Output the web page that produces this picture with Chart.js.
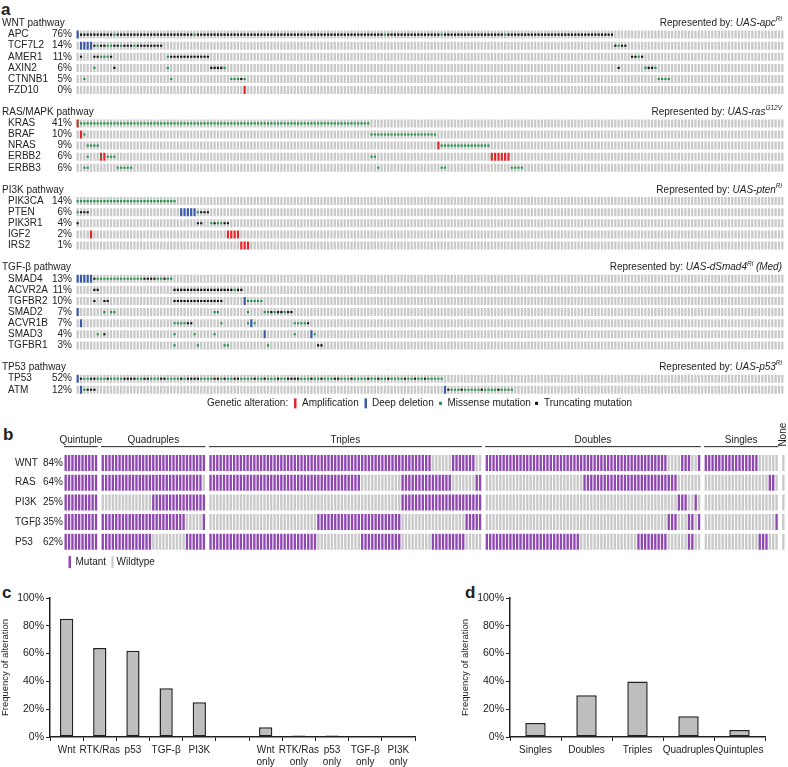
<!DOCTYPE html>
<html>
<head>
<meta charset="utf-8">
<title>Pathway alterations in colorectal cancer</title>
<script src="https://cdn.jsdelivr.net/npm/chart.js@4.4.1/dist/chart.umd.min.js"></script>
<style>
  html, body { margin: 0; padding: 0; background: #fff; }
  body { position: relative; width: 788px; height: 767px; overflow: hidden; font-family: 'Liberation Sans', Arial, sans-serif; color: #222; }
  canvas { position: absolute; }
  .panel { position: absolute; font-weight: bold; font-size: 17px; line-height: 17px; }
</style>
</head>
<body>
<div class="panel" style="left:1px;top:1px">a</div>
<div class="panel" style="left:3px;top:426px">b</div>
<div class="panel" style="left:2px;top:584px">c</div>
<div class="panel" style="left:465px;top:584px">d</div>
<canvas id="oncoprint" width="788" height="415" style="left:0;top:0"></canvas>
<canvas id="combos" width="788" height="160" style="left:0;top:415px"></canvas>
<canvas id="pathwayFreq" width="440" height="192" style="left:0;top:575px"></canvas>
<canvas id="comboFreq" width="328" height="192" style="left:460px;top:575px"></canvas>
<script>
  'use strict'

  // ---- a: oncoprint ----
  const sampleCount = 212
  const pathways = ['WNT pathway', 'RAS/MAPK pathway', 'PI3K pathway', 'TGF-β pathway', 'TP53 pathway']
  const flyModels = ['UAS-apc', 'UAS-ras', 'UAS-pten', 'UAS-dSmad4', 'UAS-p53']
  const flyModelSup = ['Ri', 'G12V', 'Ri', 'Ri', 'Ri']
  const flyModelNote = ['', '', '', ' (Med)', '']
  const pathwayGenes = [
    ['APC', 'TCF7L2', 'AMER1', 'AXIN2', 'CTNNB1', 'FZD10'],
    ['KRAS', 'BRAF', 'NRAS', 'ERBB2', 'ERBB3'],
    ['PIK3CA', 'PTEN', 'PIK3R1', 'IGF2', 'IRS2'],
    ['SMAD4', 'ACVR2A', 'TGFBR2', 'SMAD2', 'ACVR1B', 'SMAD3', 'TGFBR1'],
    ['TP53', 'ATM']
  ]
  const genePercent = [
    [76, 14, 11, 6, 5, 0],
    [41, 10, 9, 6, 6],
    [14, 6, 4, 2, 1],
    [13, 11, 10, 7, 7, 4, 3],
    [52, 12]
  ]
  // [first sample, codes]  A amplification, D deep deletion, M missense, T truncating,
  // a / d = amplification / deletion carrying a missense mutation too
  const alterations = {
    APC: [[0, 'DTTTTTTTTT TMTTTTTTTT TTTTTTTTTT TTTTTMTTTT TTTTTTTTTT TTTTTTTTTT TTTTTTTTTT TTTTTTTTTT TTTTTTTTTT TTMTTTTTTT TTTTTTTTTM TTTTTTTTTT TTTTTTTTMT TTTTTTTTTT TTTTTTTTTT TTTTTTTTTT T']],
    TCF7L2: [[1, 'DDDD TMTTMMTTMT TTMTTTTTTT T'], [161, 'TMTT']],
    AMER1: [[1, 'T'], [5, 'TTMMMT'], [27, 'MTTTTTTTTT TTT'], [166, 'TTMT']],
    AXIN2: [[5, 'M'], [11, 'T'], [27, 'M'], [40, 'TTTTM'], [162, 'T'], [170, 'MTTM']],
    CTNNB1: [[2, 'M'], [28, 'M'], [46, 'MMMTM'], [174, 'MMMM']],
    FZD10: [[50, 'A']],
    KRAS: [[0, 'aMMMMMMMMM MMMMMMMMMM MMMMMMMMMM MMMMMMMMMM MMMMMMMMMM MMMMMMMMMM MMMMMMMMMM MMMMMMMMMM MMMMMMMM']],
    BRAF: [[1, 'AM'], [88, 'MMMMMMMMMM MMMMMMMMMM']],
    NRAS: [[3, 'MMMM'], [108, 'AMMMMMMMMM MMMMMM']],
    ERBB2: [[3, 'M'], [7, 'aA'], [9, 'MMM'], [88, 'MM'], [124, 'aAAAAA']],
    ERBB3: [[2, 'MM'], [12, 'MMMMM'], [90, 'M'], [109, 'MM'], [130, 'MMMM']],
    PIK3CA: [[0, 'MMMMMMMMMM MMMMMMMMMM MMMMMMMMMM']],
    PTEN: [[0, 'MTTT'], [31, 'DDDDD'], [36, 'MTTT']],
    PIK3R1: [[0, 'T'], [36, 'TT'], [40, 'MTMMTT']],
    IGF2: [[4, 'A'], [45, 'AAAA']],
    IRS2: [[49, 'AAA']],
    SMAD4: [[0, 'DDDDD'], [5, 'TMMMMMMMMM MMMMMTTTTM MTMM']],
    ACVR2A: [[5, 'TT'], [29, 'TTTTTTTTTT TTTTTTTTMT T']],
    TGFBR2: [[5, 'T'], [8, 'TT'], [29, 'TTTTTTTTTT TTTTT'], [50, 'DMMMMM']],
    SMAD2: [[0, 'D'], [8, 'M'], [10, 'MM'], [41, 'MM'], [51, 'M'], [56, 'MMTMTTMTT']],
    ACVR1B: [[1, 'D'], [29, 'MMMMTT'], [43, 'M'], [51, 'MDM'], [65, 'MMMMT']],
    SMAD3: [[6, 'M'], [8, 'T'], [29, 'M'], [35, 'M'], [41, 'M'], [56, 'D'], [65, 'M'], [70, 'DM']],
    TGFBR1: [[29, 'M'], [36, 'M'], [44, 'MM'], [57, 'M'], [72, 'TT']],
    TP53: [[0, 'D TMMTTMMMTM MMMTTTTMMT TMMMTTMMMM TMTTTTMMMM TTMTMMTTMM MMTMMTMMMT MMTTTTMMMT MMTMMMTTMM MTMMMMTMMT MMTMMMMTMM TMMTMMMMM']],
    ATM: [[1, 'DMTTT'], [110, 'D TMMMTMMMMM TMMMMTMMMM']]
  }

  // ---- b: pathway combinations ----
  const comboGroups = ['Quintuple', 'Quadruples', 'Triples', 'Doubles', 'Singles', 'None']
  const comboGroupSize = [10, 31, 81, 64, 22, 1]
  const comboPathways = ['WNT', 'RAS', 'PI3K', 'TGFβ', 'P53']
  const comboPercent = [84, 64, 25, 35, 62]
  // mutant runs [from, to) inside each group, one list per group
  const mutantRuns = [
    [[[0, 10]], [[0, 31]], [[0, 66], [72, 79]], [[0, 54], [58, 61], [63, 64]], [[0, 16]], []],
    [[[0, 10]], [[0, 30]], [[0, 45], [57, 72], [79, 81]], [[29, 57]], [[19, 21]], []],
    [[[0, 10]], [[15, 31]], [[57, 81]], [[57, 60], [62, 63]], [], []],
    [[[0, 10]], [[0, 25], [30, 31]], [[32, 57], [76, 81]], [[54, 57], [60, 62], [63, 64]], [[21, 22]], []],
    [[[0, 10]], [[0, 15], [25, 31]], [[0, 32], [45, 57], [66, 76]], [[0, 28], [45, 54], [60, 62]], [[16, 19]], []]
  ]

  // ---- c, d: frequencies ----
  const pathwayFreqLabels = ['Wnt', 'RTK/Ras', 'p53', 'TGF-β', 'PI3K', '', ['Wnt', 'only'], ['RTK/Ras', 'only'], ['p53', 'only'], ['TGF-β', 'only'], ['PI3K', 'only']]
  const pathwayFreq = [85, 64, 62, 35, 25, null, 7, 1, 1, 0.5, 0]
  const comboFreqLabels = ['Singles', 'Doubles', 'Triples', 'Quadruples', 'Quintuples']
  const comboFreq = [10, 30, 40, 15, 5]

  const FONT = "'Liberation Sans', Arial, sans-serif"
  const INK = '#222'
  const GREY = '#c9c9c9'
  const RED = '#e3262b'
  const BLUE = '#3a5aa8'
  const GREEN = '#23944a'
  const BLACK = '#111'
  const PURPLE = '#8f48b1'

  Chart.defaults.font.family = FONT
  Chart.defaults.color = INK

  // a left-hand label column; ticks sit exactly on the labelled rows
  function labelAxis (width, weight, align, padding, labelFor, min, max) {
    const rows = Object.keys(labelFor).map(Number)
    return {
      type: 'linear',
      position: 'left',
      reverse: true,
      min,
      max,
      weight,
      grid: { display: false, drawTicks: false, tickLength: 0 },
      border: { display: false },
      afterFit: (s) => { s.width = width },
      afterBuildTicks: (s) => { s.ticks = rows.map(v => ({ value: v })) },
      ticks: {
        autoSkip: false,
        crossAlign: align,
        padding,
        font: { size: 10 },
        color: INK,
        callback: (v) => labelFor[v] ?? ''
      }
    }
  }

  function drawRich (ctx, parts, right, y) {
    const widths = parts.map(p => { ctx.font = p.font; return ctx.measureText(p.text).width })
    let x = right - widths.reduce((a, b) => a + b, 0)
    parts.forEach((p, i) => {
      ctx.font = p.font
      ctx.fillText(p.text, x, y + (p.dy || 0))
      x += widths[i]
    })
  }

  // rows of the oncoprint: a title row, the genes, a spacer
  const rowNames = {}
  const rowPercents = {}
  const titleRows = []
  const geneRows = []
  let row = 0
  pathways.forEach((p, i) => {
    titleRows.push(row++)
    pathwayGenes[i].forEach((g, j) => {
      rowNames[row] = g
      rowPercents[row] = genePercent[i][j] + '%'
      geneRows.push({ gene: g, row })
      row++
    })
    row++
  })
  const lastRow = geneRows[geneRows.length - 1].row

  function decodeRow (segments) {
    const cells = new Array(sampleCount).fill('')
    segments.forEach(([start, codes]) => {
      codes.replace(/\s+/g, '').split('').forEach((c, k) => { cells[start + k] = c })
    })
    return cells
  }

  const CELL = 0.36
  const cellSets = []
  const missense = []
  const truncating = []
  geneRows.forEach(({ gene, row }) => {
    const cells = decodeRow(alterations[gene])
    cellSets.push({
      type: 'bar',
      label: gene,
      order: 2,
      grouped: false,
      data: cells.map(() => [row - CELL, row + CELL]),
      backgroundColor: cells.map(c => (c === 'A' || c === 'a') ? RED : (c === 'D' || c === 'd') ? BLUE : GREY),
      borderWidth: 0,
      barPercentage: 0.68,
      categoryPercentage: 1
    })
    cells.forEach((c, col) => {
      if (c === 'M' || c === 'a' || c === 'd') missense.push({ x: col, y: row })
      if (c === 'T') truncating.push({ x: col, y: row })
    })
  })

  const oncoText = {
    id: 'oncoText',
    afterDraw (chart) {
      const { ctx, chartArea } = chart
      const y = chart.scales.y
      ctx.save()
      ctx.fillStyle = INK
      ctx.textBaseline = 'middle'
      ctx.textAlign = 'left'
      pathways.forEach((name, i) => {
        const py = y.getPixelForValue(titleRows[i])
        ctx.font = '10px ' + FONT
        ctx.fillText(name, 2, py)
        drawRich(ctx, [
          { text: 'Represented by: ', font: '10px ' + FONT },
          { text: flyModels[i], font: 'italic 10px ' + FONT },
          { text: flyModelSup[i], font: 'italic 6.5px ' + FONT, dy: -4 },
          { text: flyModelNote[i], font: 'italic 10px ' + FONT }
        ], chartArea.right - 2, py)
      })
      const ly = chartArea.bottom + 8
      ctx.font = '10px ' + FONT
      ctx.fillText('Genetic alteration:', 207, ly)
      ctx.fillStyle = RED
      ctx.fillRect(294, ly - 5, 2.5, 10)
      ctx.fillStyle = BLUE
      ctx.fillRect(364.5, ly - 5, 2.5, 10)
      ctx.fillStyle = GREEN
      ctx.fillRect(439, ly - 1.5, 3, 3)
      ctx.fillStyle = BLACK
      ctx.fillRect(535, ly - 1.5, 3, 3)
      ctx.fillStyle = INK
      ctx.fillText('Amplification', 302, ly)
      ctx.fillText('Deep deletion', 372, ly)
      ctx.fillText('Missense mutation', 447.5, ly)
      ctx.fillText('Truncating mutation', 544, ly)
      ctx.restore()
    }
  }

  new Chart(document.getElementById('oncoprint'), {
    type: 'bar',
    data: {
      labels: Array.from({ length: sampleCount }, (_, i) => i),
      datasets: [
        { type: 'scatter', data: missense, order: 0, pointStyle: 'rect', pointRadius: 1.5, backgroundColor: GREEN, borderWidth: 0 },
        { type: 'scatter', data: truncating, order: 0, pointStyle: 'rect', pointRadius: 1.5, backgroundColor: BLACK, borderWidth: 0 },
        ...cellSets
      ]
    },
    options: {
      responsive: false,
      animation: false,
      events: [],
      layout: { padding: { left: 8, right: 3, top: 17.95, bottom: 19.65 } },
      plugins: { legend: { display: false }, tooltip: { enabled: false } },
      scales: {
        x: { type: 'category', display: false },
        y: labelAxis(42, 2, 'far', 0, rowNames, -0.5, lastRow + 0.5),
        yPct: labelAxis(26, 1, 'near', 4, rowPercents, -0.5, lastRow + 0.5)
      }
    },
    plugins: [oncoText]
  })

  // ---- b ----
  const slots = []
  const groupSlots = []
  comboGroups.forEach((g, gi) => {
    if (gi > 0) slots.push(null)
    const first = slots.length
    for (let k = 0; k < comboGroupSize[gi]; k++) slots.push({ group: gi, k })
    groupSlots.push([first, slots.length - 1])
  })

  const comboNames = {}
  const comboPct = {}
  comboPathways.forEach((p, i) => { comboNames[i] = p; comboPct[i] = comboPercent[i] + '%' })

  const isMutant = (r, s) => mutantRuns[r][s.group].some(([a, b]) => s.k >= a && s.k < b)
  const comboSets = comboPathways.map((p, r) => ({
    label: p,
    grouped: false,
    data: slots.map(s => s ? [r - 0.405, r + 0.405] : null),
    backgroundColor: slots.map(s => s && isMutant(r, s) ? PURPLE : GREY),
    borderWidth: 0,
    barPercentage: 0.7,
    categoryPercentage: 1
  }))

  const comboText = {
    id: 'comboText',
    afterDraw (chart) {
      const { ctx, chartArea } = chart
      const x = chart.scales.x
      const half = (x.getPixelForValue(1) - x.getPixelForValue(0)) / 2
      ctx.save()
      ctx.fillStyle = INK
      ctx.strokeStyle = INK
      ctx.lineWidth = 1
      ctx.font = '10px ' + FONT
      const lineY = chartArea.top - 6.5
      comboGroups.forEach((g, gi) => {
        const [first, last] = groupSlots[gi]
        const x0 = x.getPixelForValue(first) - half
        const x1 = x.getPixelForValue(last) + half
        if (g === 'None') {
          ctx.save()
          ctx.translate((x0 + x1) / 2, lineY - 12)
          ctx.rotate(-Math.PI / 2)
          ctx.textAlign = 'center'
          ctx.textBaseline = 'middle'
          ctx.fillText(g, 0, 0)
          ctx.restore()
          return
        }
        ctx.beginPath()
        ctx.moveTo(x0, lineY)
        ctx.lineTo(x1, lineY)
        ctx.stroke()
        ctx.textAlign = 'center'
        ctx.textBaseline = 'alphabetic'
        ctx.fillText(g, (x0 + x1) / 2, lineY - 3.5)
      })
      const ly = chartArea.bottom + 10.5
      ctx.fillStyle = PURPLE
      ctx.fillRect(68.5, ly - 6, 2.5, 12)
      ctx.fillStyle = GREY
      ctx.fillRect(111.5, ly - 6, 2, 12)
      ctx.fillStyle = INK
      ctx.textAlign = 'left'
      ctx.textBaseline = 'middle'
      ctx.fillText('Mutant', 75.5, ly)
      ctx.fillText('Wildtype', 116.5, ly)
      ctx.restore()
    }
  }

  new Chart(document.getElementById('combos'), {
    type: 'bar',
    data: {
      labels: slots.map((_, i) => i),
      datasets: comboSets
    },
    options: {
      responsive: false,
      animation: false,
      events: [],
      layout: { padding: { left: 15, right: 3, top: 38.15, bottom: 23.35 } },
      plugins: { legend: { display: false }, tooltip: { enabled: false } },
      scales: {
        x: { type: 'category', display: false },
        y: labelAxis(26.5, 2, 'far', 0, comboNames, -0.5, comboPathways.length - 0.5),
        yPct: labelAxis(22.5, 1, 'near', 1, comboPct, -0.5, comboPathways.length - 0.5)
      }
    },
    plugins: [comboText]
  })

  // ---- c, d ----
  function freqChart (id, labels, values, rightPad, barPct) {
    return new Chart(document.getElementById(id), {
      type: 'bar',
      data: {
        labels,
        datasets: [{
          data: values,
          backgroundColor: '#bebebe',
          borderColor: INK,
          borderWidth: 1.5,
          borderSkipped: false,
          barPercentage: barPct,
          categoryPercentage: 1
        }]
      },
      options: {
        responsive: false,
        animation: false,
        events: [],
        layout: { padding: { left: 0, right: rightPad, top: 23, bottom: 0 } },
        plugins: { legend: { display: false }, tooltip: { enabled: false } },
        scales: {
          x: {
            grid: { drawOnChartArea: false, tickLength: 4, color: INK, lineWidth: 1 },
            border: { color: INK, width: 1.5 },
            ticks: { font: { size: 10 }, color: INK, padding: 3, maxRotation: 0, autoSkip: false },
            afterFit: (s) => { s.height = 30 }
          },
          y: {
            min: 0,
            max: 100,
            grid: { drawOnChartArea: false, tickLength: 4, color: INK, lineWidth: 1 },
            border: { color: INK, width: 1.5 },
            ticks: {
              stepSize: 10,
              padding: 2,
              font: { size: 10.5 },
              color: INK,
              callback: (v) => v % 20 === 0 ? v + '%' : ''
            },
            title: { display: true, text: 'Frequency of alteration', font: { size: 9.5 }, color: INK, padding: { top: 0, bottom: 3 } },
            afterFit: (s) => { s.width = 50 }
          }
        }
      }
    })
  }

  freqChart('pathwayFreq', pathwayFreqLabels, pathwayFreq, 25, 0.4)
  freqChart('comboFreq', comboFreqLabels, comboFreq, 23, 0.4)
</script>
</body>
</html>
